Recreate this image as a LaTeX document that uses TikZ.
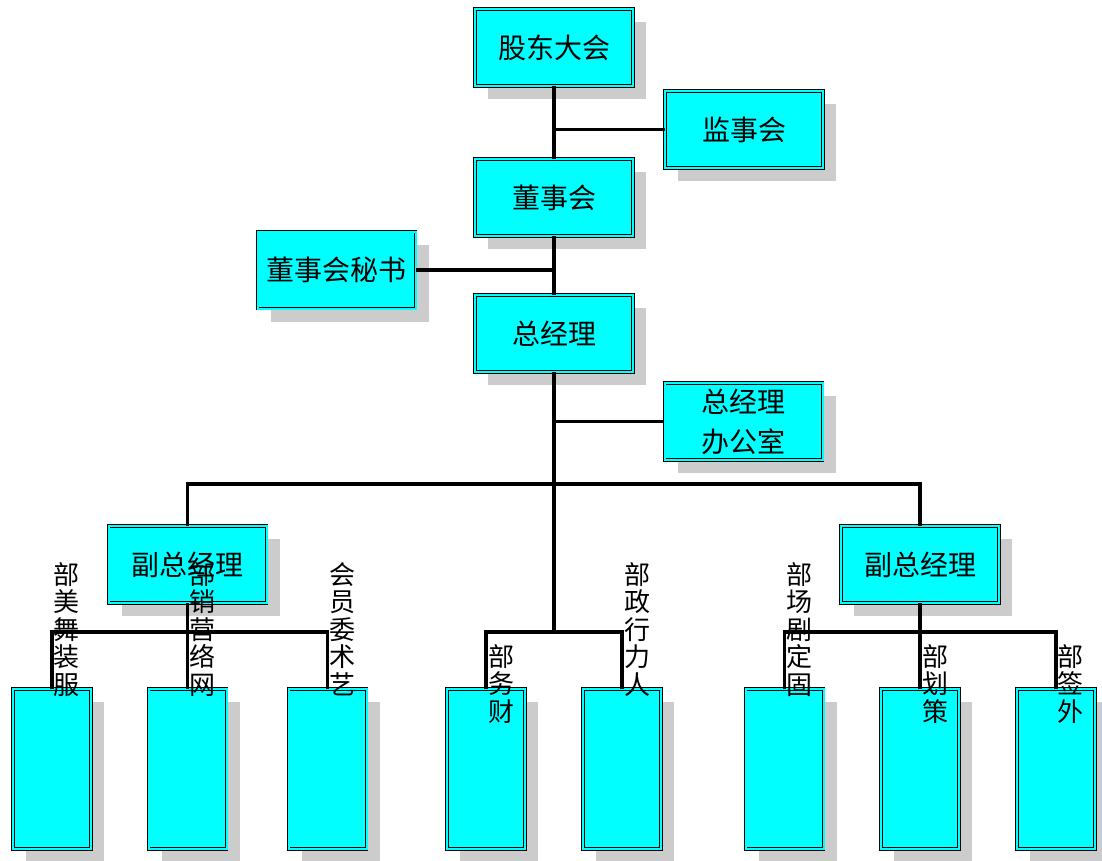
\documentclass[tikz,border=0pt]{standalone}
\usepackage{fontspec}
\newfontfamily\cjk{Noto Sans CJK SC}
\usetikzlibrary{shadows}
\definecolor{aqua}{RGB}{0,255,255}
\definecolor{shade}{RGB}{204,204,204}
\tikzset{
  org/.style={draw=black, line width=0.8pt, double=aqua, double distance=2pt,
    fill=aqua, minimum width=158pt, minimum height=77pt, inner sep=0pt,
    align=center, font=\cjk\fontsize{28}{40}\selectfont,
    drop shadow={shadow xshift=13pt, shadow yshift=-13pt, fill=shade, opacity=1}},
  dept/.style={org, minimum width=78pt, minimum height=160pt},
  conn/.style={line width=3.2pt},
  vtext/.style={anchor=north west, inner sep=0pt, align=left,
    font=\cjk\fontsize{26}{27.5}\selectfont}
}
\begin{document}
\begin{tikzpicture}[x=1pt, y=-1pt]
\useasboundingbox (0,0) rectangle (1102,861);
% top of the chart
\node[org] (gd)  at (554,47.5)  {股东大会};
\node[org] (jsh) at (744,129.5) {监事会};
\node[org] (dsh) at (554,197.5) {董事会};
\node[org] (ms)  at (336.5,270) {董事会秘书};
\node[org] (zjl) at (554,333.5) {总经理};
\node[org] (bgs) at (743.5,421.5) {总经理\\办公室};
% deputies
\node[org] (fzl) at (187.5,564.5) {副总经理};
\node[org] (fzr) at (920,564.5)   {副总经理};
% departments
\node[dept] (b1) at (52,769)    {};
\node[dept] (b2) at (187.5,769) {};
\node[dept] (b3) at (327.5,769) {};
\node[dept] (b4) at (486,769)   {};
\node[dept] (b5) at (622,769)   {};
\node[dept] (b6) at (784.5,769) {};
\node[dept] (b7) at (920,769)   {};
\node[dept] (b8) at (1056,769)  {};
% junctions
\coordinate (bus) at (554,484);
\coordinate (mid) at (554,632);
\coordinate (lj)  at (187.5,632);
\coordinate (rj)  at (920,632);
% connectors
\draw[conn] (gd) -- (dsh);
\draw[conn] (jsh.west) -- (jsh.west -| gd.south);
\draw[conn] (dsh) -- (zjl);
\draw[conn] (ms.east) -- (ms.east -| dsh.south);
\draw[conn] (zjl.south) -- (mid);
\draw[conn] (bgs.west) -- (bgs.west -| zjl.south);
\draw[conn] (fzl.north) |- (bus) -| (fzr.north);
\draw[conn] (b4.north) |- (mid) -| (b5.north);
\draw[conn] (fzl.south) -- (lj);
\draw[conn] (b1.north) |- (lj) -| (b3.north);
\draw[conn] (lj) -- (b2.north);
\draw[conn] (fzr.south) -- (rj);
\draw[conn] (b6.north) |- (rj) -| (b8.north);
\draw[conn] (rj) -- (b7.north);
% department names
\node[vtext] (t1) at (53,562)   {部\\美\\舞\\装\\服};
\node[vtext] (t2) at (189,562)  {部\\销\\营\\络\\网};
\node[vtext] (t3) at (329,562)  {会\\员\\委\\术\\艺};
\node[vtext] (t4) at (488,644)  {部\\务\\财};
\node[vtext] (t5) at (624,562)  {部\\政\\行\\力\\人};
\node[vtext] (t6) at (786,562)  {部\\场\\剧\\定\\固};
\node[vtext] (t7) at (922,644)  {部\\划\\策};
\node[vtext] (t8) at (1057,644) {部\\签\\外};
\end{tikzpicture}
\end{document}
